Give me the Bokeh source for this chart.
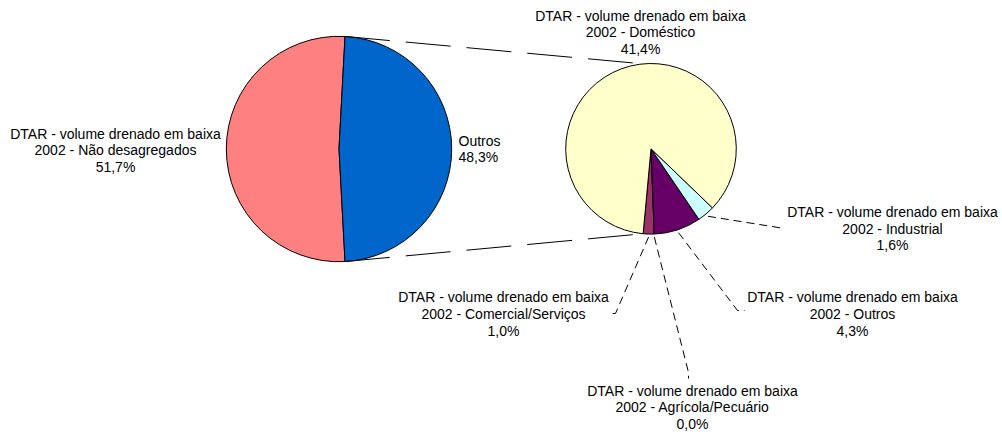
import numpy as np
from bokeh.plotting import figure
from bokeh.models import Range1d
from bokeh.embed import file_html
from bokeh.resources import INLINE
from bokeh.core.properties import value

# ---------------- data ----------------
prefix = "DTAR - volume drenado em baixa"
main_categories = ["2002 - Não desagregados", "Outros"]
main_values = [51.7, 48.3]
main_colors = ["#FF8080", "#0066CC"]

sub_categories = ["Comercial/Serviços", "Agrícola/Pecuário", "Outros", "Industrial", "Doméstico"]
sub_values = [1.0, 0.0, 4.3, 1.6, 41.4]
sub_colors = ["#993366", "#808080", "#660066", "#CCFFFF", "#FFFFCC"]

# ---------------- layout (page pixels) ----------------
W, H = 1002, 432
C1 = (338.5, 148.5); R1 = 112.7
C2 = (650.5, 148.3); R2 = 85.3
START2 = np.radians(-95.3)
FONT = value("Liberation Sans")
FS = "14px"
LH = 16.7

def Y(y):
    return -y

p = figure(width=W, height=H, x_range=Range1d(0, W), y_range=Range1d(-H, 0),
           x_axis_type=None, y_axis_type=None, toolbar_location=None, output_backend="svg",
           min_border=0, outline_line_color=None)
p.background_fill_color = "white"
p.border_fill_color = "white"

# ---- main pie ----
tot_main = sum(main_values)
half = np.pi * main_values[1] / tot_main
p.wedge(x=C1[0], y=Y(C1[1]), radius=R1, start_angle=half, end_angle=2 * np.pi - half,
        direction="anticlock", fill_color=main_colors[0], line_color="black", line_width=1)
p.wedge(x=C1[0], y=Y(C1[1]), radius=R1, start_angle=-half, end_angle=half,
        direction="anticlock", fill_color=main_colors[1], line_color="black", line_width=1)

# ---- secondary pie ----
tot_sub = sum(sub_values)
angles = [START2]
for v in sub_values:
    angles.append(angles[-1] + 2 * np.pi * v / tot_sub)
for i, v in enumerate(sub_values):
    if v <= 0:
        continue
    p.wedge(x=C2[0], y=Y(C2[1]), radius=R2, start_angle=angles[i], end_angle=angles[i + 1],
            direction="anticlock", fill_color=sub_colors[i], line_color="black", line_width=1)

# ---- connector lines ----
for s in (1, -1):
    x0 = C1[0] + R1 * np.cos(s * half)
    y0 = C1[1] - R1 * np.sin(s * half)
    a2 = -START2 if s == 1 else START2
    x1 = C2[0] + R2 * np.cos(a2)
    y1 = C2[1] - R2 * np.sin(a2)
    p.line([x0, x1], [Y(y0), Y(y1)], line_color="black", line_width=1, line_dash="45 16")

# ---- text helper ----
def label(lines, x, y0, align="center"):
    ys = [Y(y0 + i * LH) for i in range(len(lines))]
    p.text(x=[x] * len(lines), y=ys, text=lines, text_align=align, text_baseline="middle",
           text_font=FONT, text_font_size=FS, text_color="black")

def pct(v):
    return f"{v:.1f}%".replace(".", ",")

label([prefix, main_categories[0], pct(main_values[0])], 115, 133)
label([main_categories[1], pct(main_values[1])], 458, 140, align="left")

# sub labels: (center x, first line y, leader path after start)
sub_layout = {
    "Comercial/Serviços": (503, 296.7, [(615, 313), (610, 313)]),
    "Agrícola/Pecuário": (692, 390, [(688, 372), (688, 378)]),
    "Outros": (852, 296.7, [(737, 310), (744, 310)]),
    "Industrial": (892, 211.5, [(784, 228)]),
    "Doméstico": (640, 15, None),
}
for i, (cat, v) in enumerate(zip(sub_categories, sub_values)):
    lx, ly, path = sub_layout[cat]
    label([prefix, "2002 - " + cat, pct(v)], lx, ly)
    if path:
        mid = 0.5 * (angles[i] + angles[i + 1])
        sx = C2[0] + (R2 + 3) * np.cos(mid)
        sy = C2[1] - (R2 + 3) * np.sin(mid)
        xs = [sx] + [pt[0] for pt in path]
        ys = [Y(sy)] + [Y(pt[1]) for pt in path]
        p.line(xs, ys, line_color="black", line_width=1, line_dash="8 5")

open("out.html", "w").write(file_html(p, INLINE))
